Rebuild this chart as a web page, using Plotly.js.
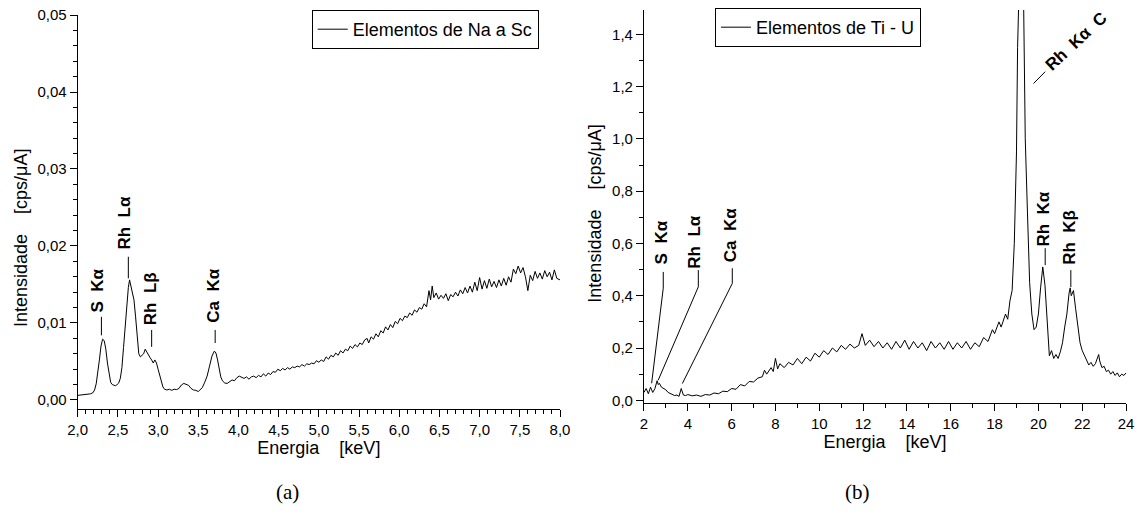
<!DOCTYPE html>
<html>
<head>
<meta charset="utf-8">
<script src="https://cdn.plot.ly/plotly-3.0.1.min.js"></script>
<style>html,body{margin:0;padding:0;background:#fff;}#chart{width:1141px;height:515px;}</style>
</head>
<body>
<div id="chart"></div>
<script>
// ---------- Data: panel (a) Elementos de Na a Sc ----------
const energyA = [2.00,2.04,2.08,2.12,2.16,2.19,2.21,2.23,2.25,2.27,2.29,2.31,2.33,2.35,2.37,2.39,2.41,2.43,2.45,2.47,2.49,2.51,2.53,2.55,2.57,2.59,2.61,2.63,2.645,2.66,2.68,2.70,2.72,2.74,2.76,2.78,2.80,2.82,2.84,2.86,2.88,2.90,2.92,2.94,2.96,2.98,3.00,3.02,3.04,3.06,3.08,3.11,3.14,3.17,3.20,3.23,3.26,3.29,3.32,3.35,3.38,3.41,3.44,3.47,3.50,3.52,3.55,3.58,3.61,3.64,3.67,3.70,3.72,3.74,3.76,3.78,3.80,3.83,3.86,3.89,3.92,3.95,3.98,4.01,4.04,4.07,4.10,4.13,4.16,4.19,4.22,4.25,4.28,4.31,4.34,4.37,4.40,4.43,4.46,4.49,4.52,4.55,4.58,4.61,4.64,4.67,4.70,4.73,4.76,4.79,4.82,4.85,4.88,4.91,4.94,4.97,5.00,5.03,5.06,5.09,5.12,5.15,5.18,5.21,5.24,5.27,5.30,5.33,5.36,5.39,5.42,5.45,5.48,5.51,5.54,5.57,5.60,5.62,5.65,5.68,5.71,5.74,5.77,5.80,5.83,5.86,5.89,5.92,5.95,5.98,6.01,6.04,6.07,6.10,6.13,6.16,6.19,6.22,6.25,6.28,6.31,6.34,6.37,6.39,6.41,6.43,6.46,6.49,6.52,6.55,6.58,6.61,6.64,6.67,6.70,6.73,6.76,6.79,6.82,6.85,6.88,6.91,6.94,6.97,7.00,7.03,7.06,7.09,7.12,7.15,7.18,7.21,7.24,7.27,7.30,7.33,7.36,7.39,7.42,7.45,7.48,7.51,7.54,7.57,7.60,7.63,7.66,7.69,7.72,7.75,7.78,7.81,7.84,7.87,7.90,7.93,7.96,8.00];
const intensityA = [0.00060,0.00065,0.00068,0.00072,0.00080,0.00095,0.00130,0.00210,0.00340,0.00520,0.00700,0.00790,0.00770,0.00660,0.00480,0.00320,0.00230,0.00200,0.00195,0.00185,0.00200,0.00220,0.00280,0.00420,0.00680,0.00980,0.01250,0.01460,0.01560,0.01480,0.01420,0.01300,0.01080,0.00820,0.00600,0.00560,0.00580,0.00600,0.00660,0.00620,0.00570,0.00550,0.00520,0.00480,0.00520,0.00480,0.00400,0.00310,0.00230,0.00170,0.00140,0.00130,0.00140,0.00125,0.00140,0.00135,0.00150,0.00195,0.00215,0.00205,0.00190,0.00150,0.00130,0.00125,0.00110,0.00130,0.00160,0.00230,0.00310,0.00440,0.00570,0.00635,0.00610,0.00520,0.00400,0.00300,0.00250,0.00220,0.00215,0.00240,0.00260,0.00250,0.00290,0.00310,0.00300,0.00280,0.00300,0.00270,0.00300,0.00310,0.00290,0.00320,0.00300,0.00340,0.00310,0.00350,0.00330,0.00370,0.00360,0.00400,0.00380,0.00410,0.00390,0.00420,0.00400,0.00430,0.00420,0.00440,0.00430,0.00460,0.00440,0.00470,0.00460,0.00480,0.00470,0.00510,0.00490,0.00520,0.00500,0.00560,0.00530,0.00580,0.00560,0.00610,0.00580,0.00640,0.00610,0.00660,0.00640,0.00700,0.00670,0.00720,0.00690,0.00740,0.00720,0.00780,0.00800,0.00740,0.00820,0.00790,0.00860,0.00820,0.00900,0.00870,0.00950,0.00910,0.00980,0.00940,0.01020,0.00990,0.01060,0.01030,0.01090,0.01070,0.01130,0.01100,0.01170,0.01140,0.01200,0.01180,0.01250,0.01210,0.01420,0.01300,0.01480,0.01330,0.01390,0.01310,0.01360,0.01320,0.01380,0.01290,0.01370,0.01340,0.01400,0.01350,0.01430,0.01380,0.01460,0.01390,0.01480,0.01400,0.01530,0.01420,0.01590,0.01440,0.01550,0.01450,0.01570,0.01470,0.01540,0.01460,0.01560,0.01480,0.01580,0.01490,0.01600,0.01530,0.01700,0.01640,0.01740,0.01650,0.01720,0.01600,0.01420,0.01620,0.01550,0.01670,0.01580,0.01650,0.01570,0.01680,0.01600,0.01660,0.01560,0.01690,0.01580,0.01560];

// ---------- Data: panel (b) Elementos de Ti - U ----------
const energyB = [2.0,2.1,2.2,2.3,2.35,2.4,2.5,2.6,2.65,2.7,2.8,2.9,3.0,3.1,3.2,3.3,3.4,3.5,3.6,3.7,3.75,3.8,3.9,4.0,4.2,4.4,4.6,4.8,5.0,5.2,5.4,5.6,5.8,6.0,6.2,6.4,6.6,6.8,7.0,7.2,7.4,7.5,7.6,7.8,7.9,8.0,8.1,8.2,8.4,8.6,8.8,9.0,9.2,9.4,9.6,9.8,10.0,10.2,10.4,10.6,10.8,11.0,11.2,11.4,11.6,11.8,11.95,12.1,12.3,12.5,12.7,12.9,13.1,13.3,13.5,13.7,13.9,14.1,14.3,14.5,14.7,14.9,15.1,15.3,15.5,15.7,15.9,16.1,16.3,16.5,16.7,16.9,17.1,17.3,17.5,17.7,17.9,18.0,18.2,18.3,18.5,18.6,18.7,18.8,18.9,19.0,19.05,19.1,19.2,19.3,19.35,19.4,19.5,19.6,19.7,19.8,19.9,20.0,20.1,20.2,20.3,20.4,20.45,20.5,20.6,20.7,20.8,20.9,21.0,21.1,21.2,21.3,21.4,21.45,21.5,21.6,21.7,21.8,21.9,22.0,22.1,22.2,22.3,22.4,22.5,22.6,22.7,22.75,22.8,22.9,23.0,23.1,23.2,23.3,23.4,23.5,23.6,23.7,23.8,23.9,24.0];
const intensityB = [0.030,0.045,0.025,0.050,0.040,0.030,0.045,0.075,0.060,0.065,0.050,0.045,0.040,0.030,0.025,0.022,0.018,0.020,0.015,0.045,0.030,0.020,0.018,0.022,0.017,0.020,0.015,0.022,0.020,0.028,0.025,0.035,0.033,0.045,0.042,0.060,0.055,0.072,0.070,0.085,0.090,0.115,0.100,0.125,0.110,0.160,0.120,0.140,0.125,0.145,0.135,0.160,0.140,0.165,0.150,0.180,0.165,0.190,0.175,0.200,0.185,0.210,0.195,0.215,0.200,0.210,0.255,0.210,0.230,0.205,0.225,0.200,0.220,0.195,0.225,0.200,0.230,0.195,0.225,0.200,0.220,0.190,0.225,0.200,0.220,0.195,0.225,0.195,0.220,0.200,0.225,0.195,0.220,0.205,0.240,0.225,0.270,0.255,0.300,0.280,0.330,0.310,0.380,0.420,0.600,0.950,1.350,1.700,1.850,1.700,1.400,1.000,0.720,0.450,0.330,0.270,0.280,0.330,0.430,0.510,0.440,0.290,0.230,0.170,0.190,0.160,0.175,0.160,0.185,0.220,0.280,0.330,0.410,0.430,0.400,0.420,0.350,0.290,0.220,0.190,0.170,0.150,0.135,0.145,0.130,0.140,0.160,0.175,0.150,0.125,0.130,0.110,0.115,0.100,0.110,0.095,0.105,0.090,0.100,0.095,0.105];

const seriesNames = ['Elementos de Na a Sc', 'Elementos de Ti - U'];
const panelLabels = ['(a)', '(b)'];
const xTitle = 'Energia\u00a0\u00a0\u00a0\u00a0[keV]';
const yTitle = 'Intensidade\u00a0\u00a0\u00a0\u00a0[cps/\u03bcA]';

// Peak labels (text) for each panel
const labelsA = ['S\u00a0\u00a0K\u03b1', 'Rh\u00a0\u00a0L\u03b1', 'Rh\u00a0\u00a0L\u03b2', 'Ca\u00a0\u00a0K\u03b1'];
const labelsB = ['S\u00a0\u00a0K\u03b1', 'Rh\u00a0\u00a0L\u03b1', 'Ca\u00a0\u00a0K\u03b1', 'Rh\u00a0\u00a0K\u03b1\u00a0\u00a0C', 'Rh\u00a0\u00a0K\u03b1', 'Rh\u00a0\u00a0K\u03b2'];

// ---------- Layout helpers (positions, styles) ----------
const FONT = 'Liberation Sans, Arial, sans-serif';
const labelPosA = [[2.25,0.0142],[2.585,0.0230],[2.90,0.0131],[3.68,0.0135]];
const labelPosB = [[2.81,0.603],[4.33,0.603],[5.93,0.632],[21.72,1.372],[20.23,0.693],[21.45,0.622]];
const labelAngB = [-90,-90,-90,-43,-90,-90];
const leadersA = [[2.295,0.0084,2.295,0.0108],[2.63,0.0158,2.63,0.0186],[2.92,0.0069,2.92,0.0091],[3.71,0.0074,3.71,0.0091]];
const leadersB = [[2.88,0.429,2.88,0.491],[2.88,0.429,2.35,0.065],[4.48,0.434,4.48,0.498],[4.48,0.434,2.65,0.077],[6.03,0.447,6.03,0.505],[6.03,0.447,3.75,0.064],[19.78,1.212,20.31,1.257],[20.31,0.517,20.31,0.582],[21.48,0.433,21.48,0.498]];

const traces = [
  {x: energyA, y: intensityA, type: 'scatter', mode: 'lines', name: seriesNames[0],
   line: {color: '#000', width: 1}, xaxis: 'x', yaxis: 'y', legend: 'legend', showlegend: true},
  {x: energyB, y: intensityB, type: 'scatter', mode: 'lines', name: seriesNames[1],
   line: {color: '#000', width: 1}, xaxis: 'x2', yaxis: 'y2', legend: 'legend2', showlegend: true}
];

const axisCommon = {
  showline: true, linecolor: '#000', linewidth: 1, mirror: false,
  ticks: 'outside', ticklen: 7, tickwidth: 1, tickcolor: '#000',
  showgrid: false, zeroline: false, fixedrange: true,
  tickfont: {family: FONT, size: 15, color: '#000'}
};
const minorCommon = {ticks: 'outside', ticklen: 4, tickwidth: 1, tickcolor: '#000', showgrid: false};
const titleFont = {family: FONT, size: 18, color: '#000'};

const annotations = [];
labelsA.forEach((t, i) => annotations.push({
  text: t, x: labelPosA[i][0], y: labelPosA[i][1], xref: 'x', yref: 'y',
  showarrow: false, textangle: -90, xanchor: 'center', yanchor: 'middle',
  font: {family: FONT, size: 17, color: '#000', weight: 'bold'}
}));
labelsB.forEach((t, i) => annotations.push({
  text: t, x: labelPosB[i][0], y: labelPosB[i][1], xref: 'x2', yref: 'y2',
  showarrow: false, textangle: labelAngB[i], xanchor: 'center', yanchor: 'middle',
  font: {family: FONT, size: 17, color: '#000', weight: 'bold'}
}));
// y-axis titles (placed as in the original figure, slightly below axis centre)
[[0.0184, 0.5379], [0.5215, 0.5852]].forEach(p => annotations.push({
  text: yTitle, x: p[0], y: p[1], xref: 'paper', yref: 'paper',
  showarrow: false, textangle: -90, xanchor: 'center', yanchor: 'middle',
  font: titleFont
}));
panelLabels.forEach((t, i) => annotations.push({
  text: t, x: [0.2524, 0.7511][i], y: 0.0447, xref: 'paper', yref: 'paper',
  showarrow: false, xanchor: 'center', yanchor: 'middle',
  font: {family: 'Liberation Serif, Times New Roman, serif', size: 21, color: '#000'}
}));

const shapes = [];
leadersA.forEach(s => shapes.push({type: 'line', xref: 'x', yref: 'y', x0: s[0], y0: s[1], x1: s[2], y1: s[3], line: {color: '#000', width: 1}}));
leadersB.forEach(s => shapes.push({type: 'line', xref: 'x2', yref: 'y2', x0: s[0], y0: s[1], x1: s[2], y1: s[3], line: {color: '#000', width: 1}}));

const legendCommon = {
  xanchor: 'left', yanchor: 'top', bgcolor: '#fff', bordercolor: '#000', borderwidth: 1,
  font: {family: FONT, size: 18, color: '#000'}
};

const layout = {
  width: 1141, height: 515,
  margin: {l: 0, r: 0, t: 0, b: 0},
  paper_bgcolor: '#fff', plot_bgcolor: '#fff',
  separators: ',.',
  font: {family: FONT, color: '#000'},
  xaxis: Object.assign({}, axisCommon, {
    domain: [0.0681, 0.4908], range: [2, 8], anchor: 'y',
    tick0: 2, dtick: 0.5, tickformat: '.1f',
    minor: Object.assign({dtick: 0.1}, minorCommon),
    title: {text: xTitle, font: titleFont, standoff: 4}
  }),
  yaxis: Object.assign({}, axisCommon, {
    domain: [0.20583, 0.97087], range: [-0.00117, 0.05], anchor: 'x',
    tick0: 0, dtick: 0.01, tickformat: '.2f',
    minor: Object.assign({dtick: 0.002}, minorCommon)
  }),
  xaxis2: Object.assign({}, axisCommon, {
    domain: [0.5644, 0.9869], range: [2, 24], anchor: 'y2',
    tick0: 2, dtick: 2, tickformat: 'd',
    minor: Object.assign({dtick: 1}, minorCommon),
    title: {text: xTitle, font: titleFont, standoff: 4}
  }),
  yaxis2: Object.assign({}, axisCommon, {
    domain: [0.21767, 0.98058], range: [-0.01, 1.493], anchor: 'x2',
    tick0: 0, dtick: 0.2, tickformat: '.1f',
    minor: Object.assign({dtick: 0.1}, minorCommon)
  }),
  legend: Object.assign({}, legendCommon, {x: 0.2732, y: 0.9806}),
  legend2: Object.assign({}, legendCommon, {x: 0.6266, y: 0.9845}),
  annotations: annotations,
  shapes: shapes
};

Plotly.newPlot('chart', traces, layout, {staticPlot: true, displayModeBar: false});
</script>
</body>
</html>
